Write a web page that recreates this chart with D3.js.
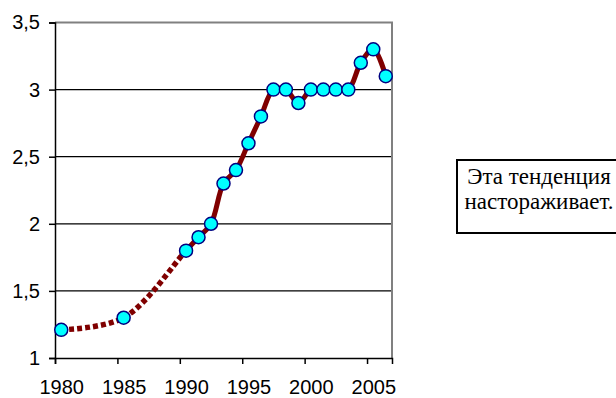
<!DOCTYPE html>
<html>
<head>
<meta charset="utf-8">
<script src="https://cdn.jsdelivr.net/npm/d3@7"></script>
<style>
  html, body { margin: 0; padding: 0; background: #fff; }
  svg { display: block; }
  .note text { font-family: 'Liberation Serif', 'DejaVu Serif', 'Times New Roman', serif; }
</style>
</head>
<body>
<svg id="chart" width="616" height="398"></svg>
<script>
'use strict';
const YEARS = [1980, 1985, 1990, 1991, 1992, 1993, 1994, 1995, 1996, 1997,
  1998, 1999, 2000, 2001, 2002, 2003, 2004, 2005, 2006];
const VALUES = [1.21, 1.3, 1.8, 1.9, 2.0, 2.3, 2.4, 2.6, 2.8, 3.0,
  3.0, 2.9, 3.0, 3.0, 3.0, 3.0, 3.2, 3.3, 3.1];
const DOTTED_UNTIL = 1990;
const X_TICKS = [1980, 1985, 1990, 1995, 2000, 2005];
const Y_TICKS = [1, 1.5, 2, 2.5, 3, 3.5];
const NOTE_LINES = ['Эта тенденция', 'настораживает.'];

const data = YEARS.map((year, i) => ({ year, value: VALUES[i] }));

const svg = d3.select('#chart');
const plot = { left: 55, right: 392, top: 22.5, bottom: 358 };

const x = d3.scaleLinear().domain([1979.5, 2006.5]).range([plot.left, plot.right]);
const y = d3.scaleLinear().domain([1, 3.5]).range([plot.bottom, plot.top]);

const ru = d3.formatLocale({ decimal: ',', thousands: ' ', grouping: [3], currency: ['', ''] });
const fmtY = ru.format('~g');

// gridlines
svg.append('g')
  .selectAll('line')
  .data(Y_TICKS.filter((d) => d > 1 && d < 3.5))
  .enter()
  .append('line')
  .attr('x1', plot.left)
  .attr('x2', plot.right)
  .attr('y1', (d) => y(d))
  .attr('y2', (d) => y(d))
  .attr('stroke', '#000')
  .attr('stroke-width', 1.3);

// plot frame (top + right, gray)
svg.append('path')
  .attr('d', `M${plot.left},${plot.top}H${plot.right}V${plot.bottom}`)
  .attr('fill', 'none')
  .attr('stroke', '#808080')
  .attr('stroke-width', 2);

// Y-Axis
svg.append('g')
  .attr('transform', `translate(${plot.left},0)`)
  .call(d3.axisLeft(y).tickValues(Y_TICKS).tickFormat(fmtY).tickSize(6).tickPadding(9))
  .call((g) => g.select('.domain').attr('stroke', '#000').attr('stroke-width', 1.5))
  .call((g) => g.selectAll('.tick line').attr('stroke', '#000').attr('stroke-width', 1.5))
  .call((g) =>
    g.selectAll('.tick text')
      .attr('fill', '#000')
      .attr('font-family', '"Liberation Sans", Arial, sans-serif')
      .attr('font-size', 20)
  );

// X-Axis (tick marks sit half a year left of the labels)
const half = x(1980) - x(1979.5);
svg.append('g')
  .attr('transform', `translate(0,${plot.bottom})`)
  .call(d3.axisBottom(x).tickValues(X_TICKS).tickFormat(d3.format('d')).tickSize(6))
  .call((g) => g.select('.domain').attr('stroke', '#000').attr('stroke-width', 1.5))
  .call((g) =>
    g.selectAll('.tick line')
      .attr('x1', -half).attr('x2', -half)
      .attr('stroke', '#000').attr('stroke-width', 1.5)
  )
  .call((g) =>
    g.selectAll('.tick text')
      .attr('fill', '#000')
      .attr('y', 35.5)
      .attr('dy', null)
      .attr('font-family', '"Liberation Sans", Arial, sans-serif')
      .attr('font-size', 20)
  );

// line: dotted before 1990, solid after
const line = d3.line()
  .x((d) => x(d.year))
  .y((d) => y(d.value))
  .curve(d3.curveCatmullRom.alpha(0.5));

const defs = svg.append('defs');
defs.append('clipPath').attr('id', 'clip-dotted')
  .append('rect')
  .attr('x', 0).attr('y', 0)
  .attr('width', x(DOTTED_UNTIL)).attr('height', 398);
defs.append('clipPath').attr('id', 'clip-solid')
  .append('rect')
  .attr('x', x(DOTTED_UNTIL)).attr('y', 0)
  .attr('width', 616).attr('height', 398);

svg.append('path')
  .datum(data)
  .attr('clip-path', 'url(#clip-dotted)')
  .attr('fill', 'none')
  .attr('stroke', '#800000')
  .attr('stroke-width', 5.5)
  .attr('stroke-dasharray', '5,3')
  .attr('d', line);

svg.append('path')
  .datum(data)
  .attr('clip-path', 'url(#clip-solid)')
  .attr('fill', 'none')
  .attr('stroke', '#800000')
  .attr('stroke-width', 5)
  .attr('d', line);

// markers
svg.append('g')
  .selectAll('circle')
  .data(data)
  .enter()
  .append('circle')
  .attr('cx', (d) => x(d.year))
  .attr('cy', (d) => y(d.value))
  .attr('r', 6.5)
  .attr('fill', '#00ffff')
  .attr('stroke', '#000080')
  .attr('stroke-width', 1.5);

// note box
const note = svg.append('g').attr('class', 'note');
note.append('rect')
  .attr('x', 457).attr('y', 160)
  .attr('width', 220).attr('height', 73)
  .attr('fill', '#fff')
  .attr('stroke', '#000')
  .attr('stroke-width', 2);
note.selectAll('text')
  .data(NOTE_LINES)
  .enter()
  .append('text')
  .attr('x', 539)
  .attr('y', (d, i) => 184 + i * 25)
  .attr('text-anchor', 'middle')
  .attr('font-size', 23)
  .attr('fill', '#000')
  .text((d) => d);
</script>
</body>
</html>
